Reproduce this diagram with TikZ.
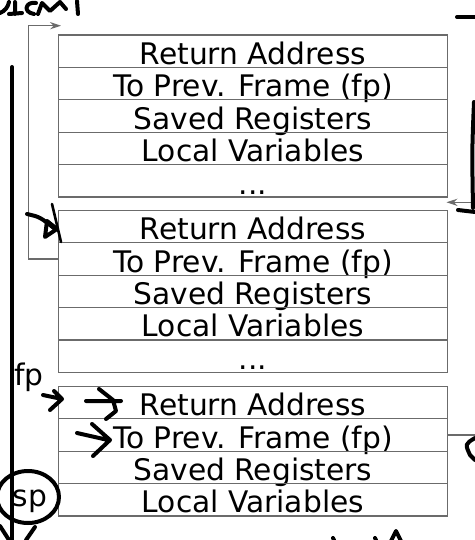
\documentclass[tikz,border=0pt]{standalone}
\usepackage{fontspec}
\setmainfont{DejaVu Sans}
\usetikzlibrary{arrows.meta}
\definecolor{boxgray}{gray}{0.42}
\tikzset{
  row/.style={draw=boxgray, line width=0.6pt, inner xsep=0pt, inner ysep=0pt,
    minimum width=194.4pt, text height=14.7pt, text depth=1.5pt,
    font=\fontsize{14.85}{17}\selectfont, align=center},
  conn/.style={draw=boxgray, line width=0.6pt, -{Stealth[length=5.5pt,width=3.6pt]}},
  reglabel/.style={font=\fontsize{14.85}{17}\selectfont, inner sep=0pt, anchor=base},
  hand/.style={draw=black, line width=2pt, line cap=round, line join=round}
}
\begin{document}
\begin{tikzpicture}[x=0.5pt,y=-0.5pt]
\useasboundingbox (0,0) rectangle (475,540);
\clip (0,0) rectangle (475,540);
\fill[white] (0,0) rectangle (475,540);
% frame 1
\node[row] (a1) at (252.9,51.2) {Return Address};
\node[row] (a2) at (252.9,83.6) {To Prev. Frame (fp)};
\node[row] (a3) at (252.9,116.0) {Saved Registers};
\node[row] (a4) at (252.9,148.4) {Local Variables};
\node[row] (a5) at (252.9,180.8) {...};
% frame 2
\node[row] (b1) at (252.9,226.5) {Return Address};
\node[row] (b2) at (252.9,258.9) {To Prev. Frame (fp)};
\node[row] (b3) at (252.9,291.3) {Saved Registers};
\node[row] (b4) at (252.9,323.7) {Local Variables};
\node[row] (b5) at (252.9,356.1) {...};
% frame 3
\node[row] (c1) at (252.9,402.5) {Return Address};
\node[row] (c2) at (252.9,434.9) {To Prev. Frame (fp)};
\node[row] (c3) at (252.9,467.3) {Saved Registers};
\node[row] (c4) at (252.9,499.7) {Local Variables};
% labels
\node[reglabel] (fp) at (29,385) {fp};
\node[reglabel] (sp) at (30,506.5) {sp};
% connectors
\coordinate (t1) at (61,25.7);
\coordinate (t2) at (446.5,202.3);
\draw[conn] (b2.west) -- ++(-29.6,0) |- (t1);
\draw[conn] (c2.east) -- ++(45,0) |- (t2);
% hand-drawn annotations
\draw[hand] (12,67) -- (12,545);
% ICM scribble
\draw[hand] (0,13) .. controls (5,11) and (8,7) .. (9,2);
\draw[hand] (15,2) -- (15,14) (9,14) -- (22,13);
\draw[hand] (36,3) .. controls (26,1) and (22,12) .. (34,14);
\draw[hand] (38,14) -- (42,3) -- (50,11) -- (60,2) -- (66,9);
\draw[hand] (77,1) -- (78,14);
% arrow into frame 2
\draw[hand] (27,214) .. controls (40,217) .. (55,229);
\draw[hand] (47,221) -- (57,229) -- (45,237) -- (47,221);
\draw[hand, line width=1.3pt] (52,204) -- (61,242);
% right bracket
\draw[hand] (457,17) -- (475,17);
\draw[hand] (474,102) .. controls (472,150) .. (473,208);
\draw[hand] (458,210) -- (475,212);
% fp arrows
\draw[hand] (43,395) -- (62,399) (54,391) -- (62,399) -- (50,410);
\draw[hand] (86,401) -- (121,401) (99,389) -- (113,400) -- (116,411) -- (106,419);
\draw[hand] (77,433) -- (108,440) (92,424) -- (110,440) -- (93,456);
% sp circle
\draw[hand] (28,497) ellipse [x radius=31, y radius=26];
\draw[hand] (0,526) -- (9,540) (35,527) -- (26,540);
% bottom right marks
\draw[hand] (475,438) .. controls (465,444) .. (470,455) -- (475,460);
\draw[hand] (333,538) -- (334,540) (375,538) -- (376,540);
\draw[hand] (391,541) -- (396,531) -- (401,541);
\end{tikzpicture}
\end{document}
